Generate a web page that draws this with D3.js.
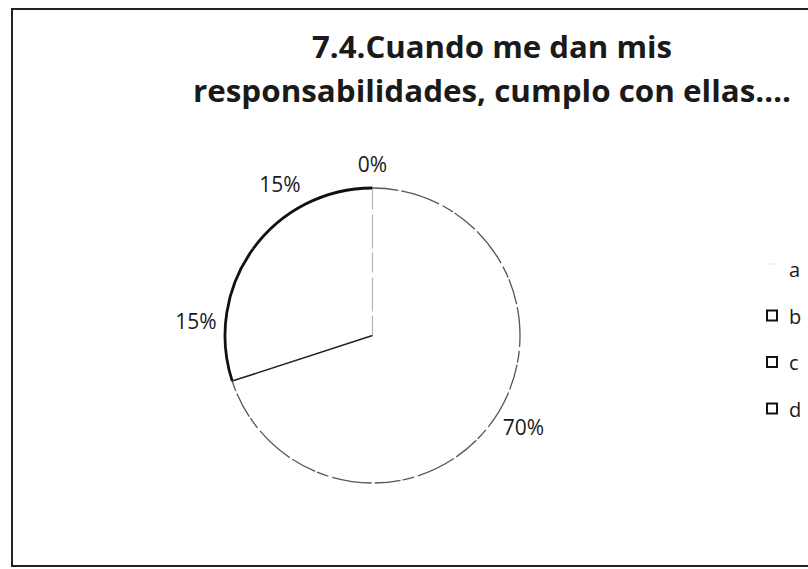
<!DOCTYPE html>
<html>
<head>
<meta charset="utf-8">
<script src="https://cdn.jsdelivr.net/npm/d3@7"></script>
<style>
  html, body { margin: 0; padding: 0; background: #ffffff; }
  svg { display: block; }
  text { font-family: "Open Sans", "Noto Sans", sans-serif; fill: #1a1a1a; }
</style>
</head>
<body>
<svg id="chart" width="808" height="569"></svg>
<script>
// ---- data ----
const titleLines = ["7.4.Cuando me dan mis", "responsabilidades, cumplo con ellas…."];
const categories = ["a", "b", "c", "d"];
const values = [70, 15, 15, 0];
const labels = ["70%", "15%", "15%", "0%"];

const svg = d3.select("#chart");
const W = 808, H = 569;

// frame
svg.append("rect").attr("x", 0).attr("y", 0).attr("width", W).attr("height", H).attr("fill", "#ffffff");
svg.append("path")
  .attr("d", "M812,9 L12,9 L12,566 L812,566")
  .attr("fill", "none").attr("stroke", "#222").attr("stroke-width", 2);

// title
const titleWidths = [360, 598];
const title = svg.append("text")
  .attr("text-anchor", "middle")
  .attr("font-weight", "bold")
  .attr("font-size", 30);
title.selectAll("tspan").data(titleLines).join("tspan")
  .attr("x", 492)
  .attr("y", (d, i) => 58 + i * 44)
  .attr("textLength", (d, i) => titleWidths[i])
  .attr("lengthAdjust", "spacingAndGlyphs")
  .text(d => d);

// pie
const cx = 372.5, cy = 335.5, r = 147.5;
const g = svg.append("g").attr("transform", `translate(${cx},${cy})`);
const pie = d3.pie().sort(null).value(d => d.value);
const data = categories.map((c, i) => ({ cat: c, value: values[i], label: labels[i] }));
const arcs = pie(data);

const arcFill = d3.arc().innerRadius(0).outerRadius(r);

const arcStyle = {
  a: { stroke: "#555", width: 1.3, dash: "26,3,40,4,12,2" },
  b: { stroke: "#111", width: 2.8, dash: null },
  c: { stroke: "#111", width: 2.8, dash: null },
  d: { stroke: "#111", width: 2.8, dash: null }
};

g.selectAll("path.slice").data(arcs).join("path")
  .attr("class", "slice")
  .attr("d", arcFill)
  .attr("fill", "#ffffff")
  .attr("stroke", "none");

// outer rims per slice
g.selectAll("path.rim").data(arcs.filter(d => d.endAngle > d.startAngle)).join("path")
  .attr("class", "rim")
  .attr("d", d => {
    const s = d.startAngle, e = d.endAngle;
    const x0 = r * Math.sin(s), y0 = -r * Math.cos(s);
    const x1 = r * Math.sin(e), y1 = -r * Math.cos(e);
    const large = (e - s) > Math.PI ? 1 : 0;
    return `M${x0},${y0} A${r},${r} 0 ${large} 1 ${x1},${y1}`;
  })
  .attr("fill", "none")
  .attr("stroke", d => arcStyle[d.data.cat].stroke)
  .attr("stroke-width", d => arcStyle[d.data.cat].width)
  .attr("stroke-dasharray", d => arcStyle[d.data.cat].dash);

// radial separators: start of slice a (faint) and start of slice b (dark)
const radial = (ang) => `M0,0 L${r * Math.sin(ang)},${-r * Math.cos(ang)}`;
g.append("path").attr("d", radial(arcs[0].startAngle))
  .attr("stroke", "#b5b5b5").attr("stroke-width", 1.2).attr("stroke-dasharray", "20,4,34,5").attr("fill", "none");
g.append("path").attr("d", radial(arcs[1].startAngle))
  .attr("stroke", "#222").attr("stroke-width", 1.6).attr("fill", "none");

// data labels (best-fit style: slightly counter-clockwise of the slice middle)
const lr = r * 1.2;
const labelAngle = d => (d.startAngle + d.endAngle) / 2 - (d.value > 0 ? 0.08 : 0);
g.selectAll("text.lbl").data(arcs).join("text")
  .attr("class", "lbl")
  .attr("text-anchor", "middle")
  .attr("font-size", 21)
  .attr("dy", "0.35em")
  .attr("x", d => lr * Math.sin(labelAngle(d)))
  .attr("y", d => -lr * Math.cos(labelAngle(d)) + (d.value > 0 ? 0 : 6))
  .text(d => d.data.label);

// legend
const lg = svg.append("g").attr("transform", "translate(767,270)");
const items = lg.selectAll("g").data(categories).join("g")
  .attr("transform", (d, i) => `translate(0,${i * 46.5})`);
items.append("rect")
  .attr("x", 0).attr("y", -6).attr("width", 10).attr("height", 10)
  .attr("fill", "#fff")
  .attr("stroke", (d, i) => i === 0 ? "#ccc" : "#111")
  .attr("stroke-width", (d, i) => i === 0 ? 0.6 : 2)
  .attr("stroke-dasharray", (d, i) => i === 0 ? "8,40" : null);
items.append("text")
  .attr("x", 22).attr("y", 0).attr("dy", "0.35em")
  .attr("font-size", 20)
  .text(d => d);
</script>
</body>
</html>
